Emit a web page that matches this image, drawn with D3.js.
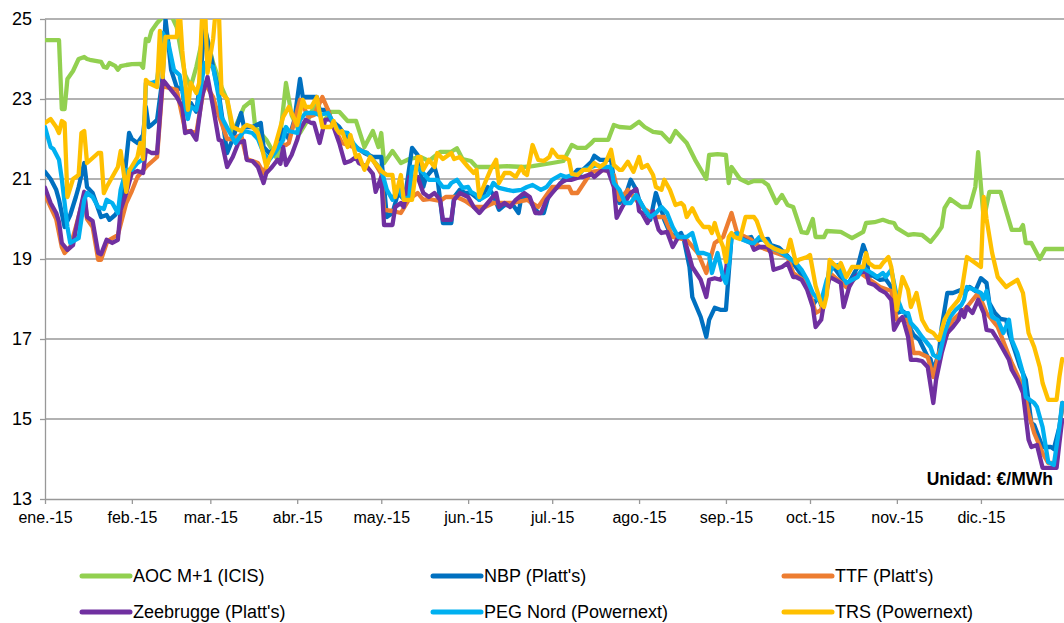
<!DOCTYPE html>
<html><head><meta charset="utf-8">
<script src="https://cdn.jsdelivr.net/npm/d3@7"></script>
<style>body{margin:0;background:#fff} svg{display:block;font-family:Arial,"Liberation Sans",sans-serif}</style>
</head><body><svg id="c" width="1064" height="623"></svg>
<script>
// ---- data (day of year 2015, value €/MWh) ----
const seriesNames = ["AOC M+1 (ICIS)", "NBP (Platt's)", "TTF (Platt's)", "Zeebrugge (Platt's)", "PEG Nord (Powernext)", "TRS (Powernext)"];
const seriesColors = ["#92D050", "#0070C0", "#ED7D31", "#7030A0", "#00B0F0", "#FFC000"];
const monthLabels = ["ene.-15","feb.-15","mar.-15","abr.-15","may.-15","jun.-15","jul.-15","ago.-15","sep.-15","oct.-15","nov.-15","dic.-15"];
const yTicks = [13, 15, 17, 19, 21, 23, 25];
const unitLabel = "Unidad: €/MWh";

const aoc = [[0,24.47],[5,24.47],[6,22.75],[7,22.75],[8,23.5],[10,23.7],[12,24.0],[14,24.05],[15,24.0],[16,23.98],[20,23.93],[21,23.8],[22,23.78],[23,23.9],[25,23.83],[26,23.73],[27,23.82],[29,23.85],[31,23.87],[34,23.88],[35,23.78],[36,24.5],[37,24.45],[38,24.7],[40,24.9],[42,25.05],[45,25.1],[47,24.8],[50,23.6],[52,23.3],[54,23.8],[57,24.75],[60,23.9],[63,23.3],[65,22.97],[67,22.15],[71,22.8],[74,22.97],[75,22.3],[79,21.98],[83,21.48],[86,23.4],[88,22.6],[91,22.15],[94,22.5],[97,22.97],[99,22.4],[102,22.68],[105,22.68],[108,22.45],[111,22.45],[114,21.8],[117,22.2],[119,21.8],[120,22.15],[121,21.4],[124,21.7],[127,21.4],[130,21.5],[134,21.55],[137,21.45],[141,21.68],[145,21.68],[147,21.77],[149,21.5],[152,21.45],[154,21.3],[159,21.3],[165,21.32],[171,21.3],[174,21.32],[181,21.4],[185,21.45],[188,21.85],[190,21.78],[193,21.78],[195,21.9],[196,21.98],[201,21.98],[203,22.35],[205,22.3],[209,22.28],[212,22.43],[214,22.3],[217,22.18],[220,22.15],[223,21.93],[225,22.2],[227,22.05],[229,21.9],[232,21.48],[236,21.0],[237,21.6],[240,21.62],[243,21.6],[244,20.9],[245,21.3],[248,21.0],[251,20.9],[253,20.95],[256,20.95],[258,20.85],[261,20.4],[263,20.6],[265,20.35],[267,20.3],[270,19.67],[272,19.65],[274,20.0],[275,19.55],[278,19.55],[279,19.7],[284,19.68],[286,19.6],[288,19.52],[292,19.68],[293,19.9],[296,19.92],[299,19.98],[301,19.93],[303,19.9],[304,19.77],[308,19.6],[310,19.62],[313,19.6],[316,19.43],[318,19.6],[320,19.8],[321,20.27],[323,20.5],[327,20.3],[330,20.3],[332,20.8],[333,21.67],[335,19.98],[337,20.68],[341,20.68],[343,20.2],[345,19.73],[348,19.73],[349,19.85],[350,19.4],[352,19.4],[355,19.0],[357,19.25],[364,19.25]];

const nbp = [[0,21.18],[2,21.0],[4,20.73],[5,20.48],[7,19.8],[9,20.1],[11,20.55],[12,20.8],[14,21.4],[15,20.8],[17,20.65],[20,20.05],[22,20.1],[23,19.98],[25,20.1],[27,20.3],[28,20.8],[30,22.15],[31,22.0],[33,21.9],[35,22.1],[36,22.8],[37,22.3],[38,22.35],[40,22.48],[42,23.55],[43,25.0],[44,24.4],[45,23.73],[47,23.3],[49,23.23],[50,22.73],[52,22.9],[54,22.68],[55,23.23],[57,24.8],[59,24.15],[60,23.8],[62,23.15],[63,22.65],[65,21.65],[67,22.0],[70,22.65],[71,22.3],[74,22.3],[77,22.4],[78,21.8],[80,21.65],[83,21.8],[85,22.23],[87,22.0],[89,22.48],[91,23.5],[92,23.05],[95,23.05],[97,23.05],[98,22.73],[101,22.73],[102,22.48],[105,22.3],[108,22.0],[111,21.8],[114,21.65],[117,21.55],[120,21.55],[121,20.8],[122,20.05],[124,20.15],[126,20.65],[128,20.5],[129,20.8],[131,21.78],[133,21.6],[135,20.8],[136,21.05],[139,21.3],[140,21.05],[142,19.9],[145,19.9],[146,20.55],[148,20.73],[150,20.65],[152,20.65],[155,20.48],[158,20.8],[160,20.6],[162,20.23],[164,20.35],[167,20.35],[169,20.15],[170,20.55],[172,20.55],[176,20.15],[178,20.15],[180,20.65],[183,20.8],[185,20.98],[187,20.98],[190,21.23],[192,21.23],[195,21.43],[196,21.58],[198,21.48],[200,21.48],[202,21.48],[203,20.98],[205,20.4],[207,20.55],[209,20.98],[211,20.73],[212,20.48],[214,20.23],[216,19.98],[218,20.65],[220,20.23],[221,19.98],[223,19.65],[225,19.55],[227,19.65],[228,19.48],[230,18.8],[231,18.05],[234,17.55],[236,17.05],[237,17.48],[239,17.78],[241,17.73],[243,17.73],[244,18.65],[245,19.55],[247,19.65],[249,19.5],[252,19.55],[253,19.4],[255,19.48],[258,19.5],[259,19.35],[262,19.28],[264,19.15],[266,19.0],[268,18.8],[270,18.6],[272,18.28],[274,17.85],[276,18.05],[277,17.85],[279,18.3],[280,18.8],[282,18.75],[284,18.55],[286,18.3],[288,18.55],[290,18.8],[292,19.35],[293,19.15],[294,18.55],[295,18.6],[298,18.48],[300,18.5],[302,18.3],[304,17.65],[306,17.7],[307,17.65],[309,17.23],[310,17.1],[312,16.98],[315,16.55],[316,16.5],[317,16.2],[319,16.65],[320,17.3],[322,18.15],[324,18.15],[327,18.23],[328,18.15],[330,18.3],[332,18.2],[334,18.52],[336,18.4],[337,17.9],[339,17.65],[341,17.5],[343,17.48],[344,17.15],[346,16.73],[348,16.3],[350,15.98],[352,14.9],[353,14.85],[356,14.3],[359,14.3],[360,14.25],[362,14.8],[363,15.3]];

const ttf = [[0,20.6],[2,20.3],[4,20.0],[6,19.3],[7,19.15],[9,19.3],[11,19.8],[14,20.6],[15,20.0],[17,19.8],[19,18.98],[20,18.98],[22,19.4],[23,19.48],[26,19.6],[29,20.4],[31,20.7],[33,21.05],[36,21.3],[40,21.55],[42,23.4],[43,23.3],[47,23.23],[50,22.23],[54,22.15],[57,23.4],[60,23.05],[61,22.8],[65,22.0],[67,22.0],[70,22.1],[72,21.5],[74,21.45],[76,21.4],[78,21.15],[80,21.5],[83,21.9],[86,21.85],[87,21.9],[91,22.98],[94,22.55],[96,22.6],[99,23.05],[101,22.73],[103,22.3],[106,21.9],[108,21.85],[110,21.8],[115,21.65],[117,21.48],[120,21.13],[121,20.23],[124,20.2],[127,20.15],[130,20.5],[133,20.65],[135,20.48],[137,20.5],[141,20.45],[143,20.55],[147,20.55],[150,20.45],[153,20.3],[157,20.3],[160,20.4],[164,20.4],[167,20.4],[172,20.48],[176,20.3],[181,20.8],[185,20.8],[187,20.8],[188,20.65],[190,20.65],[195,21.18],[200,21.23],[203,21.1],[205,20.48],[208,20.73],[213,20.3],[218,20.05],[221,20.05],[224,19.55],[229,19.48],[233,19.15],[236,18.65],[239,19.4],[242,19.55],[245,20.15],[247,19.65],[252,19.48],[255,19.3],[265,19.05],[267,18.65],[272,18.4],[275,17.65],[277,17.73],[280,18.65],[286,18.3],[291,18.65],[298,18.3],[302,18.2],[304,17.48],[308,17.48],[310,16.65],[312,16.65],[315,16.55],[317,16.05],[319,16.65],[324,17.48],[329,17.8],[333,18.15],[336,17.65],[340,17.3],[345,16.4],[349,15.8],[351,15.15],[353,14.65],[356,14.15],[358,13.9],[361,13.9],[363,15.4]];

const zee = [[0,20.78],[2,20.4],[4,20.15],[5,19.93],[6,19.4],[8,19.23],[10,19.35],[11,19.73],[14,20.68],[15,20.05],[17,19.95],[19,19.15],[20,19.12],[22,19.48],[24,19.4],[26,19.48],[27,20.23],[29,20.65],[31,21.15],[33,21.2],[35,21.15],[36,21.73],[38,21.65],[40,21.65],[42,23.48],[43,23.4],[47,23.05],[49,22.8],[50,22.15],[52,22.2],[54,21.98],[56,23.05],[58,23.55],[60,22.8],[62,21.98],[63,21.95],[65,21.3],[67,21.55],[69,21.9],[71,21.95],[72,21.48],[74,21.45],[76,21.3],[78,20.9],[79,21.15],[81,21.3],[83,21.48],[84,21.38],[85,21.8],[86,21.35],[88,21.6],[90,21.98],[91,22.23],[93,22.48],[95,22.4],[96,22.4],[98,21.9],[100,22.48],[102,22.5],[104,22.1],[105,21.9],[107,21.4],[109,21.45],[111,21.55],[112,21.4],[115,21.3],[117,21.13],[118,20.68],[120,21.05],[121,19.85],[124,19.85],[125,20.3],[127,20.4],[128,20.3],[130,21.05],[133,21.05],[135,20.65],[137,20.55],[139,20.65],[141,20.48],[142,19.98],[145,19.98],[146,20.48],[148,20.65],[151,20.55],[153,20.3],[155,20.15],[158,20.4],[161,20.65],[162,20.3],[164,20.4],[166,20.3],[168,20.48],[171,20.65],[173,20.55],[175,20.15],[177,20.15],[179,20.48],[181,20.65],[184,20.9],[186,20.98],[188,20.98],[191,21.05],[192,21.05],[195,21.13],[196,21.05],[199,21.23],[201,21.2],[203,20.8],[204,20.03],[206,20.3],[209,20.65],[211,20.75],[212,20.2],[213,20.15],[215,19.9],[217,20.2],[219,19.73],[220,19.65],[222,19.68],[224,19.3],[226,19.55],[228,19.55],[229,19.3],[231,18.8],[234,18.48],[236,18.05],[237,18.48],[239,18.52],[241,18.48],[243,18.7],[244,19.3],[245,19.55],[247,19.6],[249,19.5],[252,19.4],[253,19.23],[255,19.3],[258,19.3],[259,19.15],[260,18.73],[263,18.8],[265,18.9],[267,18.55],[268,18.55],[270,18.48],[272,18.23],[274,17.8],[275,17.3],[277,17.48],[278,17.9],[280,18.55],[282,18.48],[284,18.4],[285,17.8],[287,18.3],[289,18.55],[291,18.65],[293,18.73],[294,18.4],[296,18.35],[298,18.23],[300,18.15],[302,17.98],[303,17.23],[305,17.48],[306,17.55],[308,17.05],[309,16.48],[311,16.48],[313,16.45],[315,16.3],[317,15.4],[318,15.98],[320,16.65],[322,17.15],[324,17.3],[326,17.48],[327,17.73],[328,17.55],[329,17.8],[331,17.65],[333,17.98],[335,17.65],[336,17.23],[338,17.2],[340,16.98],[342,16.73],[344,16.48],[345,16.23],[347,15.98],[349,15.65],[351,14.48],[352,14.3],[354,14.35],[356,13.78],[361,13.78],[362,14.4],[363,14.98]];

const peg = [[0,22.3],[2,21.8],[3,21.75],[5,21.48],[6,21.0],[8,19.8],[9,19.4],[12,19.52],[14,20.48],[15,20.65],[17,20.55],[19,20.3],[21,20.25],[22,20.48],[24,20.4],[26,20.15],[27,20.73],[29,21.23],[31,21.23],[33,21.4],[35,21.5],[36,23.4],[38,23.4],[40,23.45],[42,24.65],[44,24.4],[46,23.73],[48,23.6],[49,23.23],[51,22.5],[52,22.8],[54,22.73],[55,23.05],[57,23.9],[60,23.8],[62,23.05],[63,22.55],[66,22.15],[68,21.9],[71,22.2],[74,22.15],[76,22.0],[78,21.65],[80,21.48],[82,21.65],[85,21.98],[86,22.3],[87,22.2],[90,22.15],[91,22.48],[93,22.65],[96,22.65],[98,22.6],[101,22.65],[103,22.4],[105,22.18],[108,22.15],[110,21.9],[112,21.73],[115,21.65],[117,21.48],[120,21.23],[122,20.73],[124,20.48],[126,20.8],[128,20.5],[130,20.55],[131,21.3],[133,21.3],[135,21.15],[137,20.98],[140,20.98],[142,20.8],[144,20.8],[145,20.9],[147,20.98],[149,20.78],[151,20.8],[152,20.68],[154,20.6],[155,20.48],[158,20.6],[160,20.9],[162,20.78],[165,20.73],[167,20.7],[170,20.73],[172,20.8],[174,20.85],[177,20.73],[179,20.8],[181,20.98],[184,21.1],[186,21.05],[188,21.1],[191,21.15],[192,21.23],[195,21.3],[197,21.35],[199,21.3],[202,21.3],[203,20.9],[205,20.73],[207,20.4],[209,20.4],[211,20.6],[212,20.48],[214,20.23],[216,20.05],[218,20.15],[220,20.3],[222,20.15],[224,19.8],[226,19.55],[227,19.55],[229,19.55],[231,19.65],[233,19.15],[235,19.15],[237,19.1],[238,18.65],[240,19.15],[242,18.55],[243,18.4],[244,18.8],[245,19.55],[247,19.65],[249,19.48],[252,19.4],[253,19.4],[255,19.55],[258,19.4],[260,19.25],[262,19.2],[265,19.05],[266,19.0],[268,18.9],[270,18.73],[272,18.48],[274,18.15],[276,17.98],[277,17.95],[279,18.48],[281,18.8],[283,18.85],[284,18.65],[286,18.4],[288,18.48],[290,18.55],[292,18.8],[293,18.73],[295,18.65],[297,18.55],[299,18.65],[300,18.55],[302,18.73],[304,18.05],[306,17.68],[308,17.65],[309,17.4],[311,17.25],[313,17.05],[316,16.8],[317,16.6],[319,16.52],[321,17.15],[323,17.55],[325,17.73],[327,17.85],[328,17.98],[329,18.3],[331,18.25],[334,18.15],[335,18.0],[336,18.2],[338,17.55],[340,17.48],[342,17.15],[344,17.48],[345,16.98],[347,16.65],[349,16.15],[350,15.55],[353,15.4],[354,15.3],[356,14.8],[358,13.93],[360,13.85],[362,14.8],[363,15.4]];

const trs = [[0,22.4],[2,22.5],[4,22.3],[5,22.15],[6,22.45],[7,22.4],[8,20.55],[10,21.0],[12,21.1],[13,22.15],[14,22.2],[15,21.4],[19,21.65],[20,21.65],[21,20.65],[22,20.8],[26,21.3],[27,21.7],[29,20.68],[30,21.2],[33,21.55],[34,21.9],[35,21.5],[36,23.48],[37,23.4],[40,23.3],[41,24.7],[42,23.55],[43,24.55],[47,24.55],[48,25.3],[49,24.2],[51,22.73],[52,23.4],[54,23.15],[55,23.4],[56,25.0],[57,25.5],[58,23.65],[60,24.5],[61,25.3],[62,25.3],[63,23.15],[65,23.0],[67,22.3],[70,22.2],[71,22.3],[72,22.35],[74,22.3],[76,22.15],[77,21.9],[79,21.3],[80,21.5],[82,21.8],[84,22.3],[85,22.55],[87,22.8],[88,22.65],[90,22.35],[92,22.98],[93,22.8],[95,22.8],[97,23.05],[98,22.65],[99,22.3],[102,22.3],[103,22.45],[104,22.25],[105,22.15],[106,22.2],[108,21.8],[109,22.1],[111,21.55],[112,21.6],[114,21.23],[116,21.55],[119,21.3],[120,21.2],[122,21.1],[124,21.1],[125,20.55],[127,21.1],[128,20.48],[131,20.48],[133,21.55],[134,21.55],[135,21.23],[137,21.48],[139,21.3],[140,21.65],[142,21.5],[145,21.65],[146,21.5],[148,21.55],[151,21.3],[153,21.15],[154,21.23],[155,20.55],[157,20.9],[159,21.23],[161,21.48],[162,20.9],[164,21.15],[166,21.15],[168,21.05],[170,21.3],[171,21.15],[172,21.1],[174,21.85],[176,21.48],[178,21.45],[180,21.55],[181,21.73],[183,21.55],[185,21.55],[187,21.48],[188,21.13],[190,21.1],[192,21.23],[194,21.23],[196,21.4],[198,21.3],[200,21.4],[202,21.73],[203,21.35],[205,21.23],[206,21.23],[208,21.43],[210,21.18],[212,21.55],[213,21.28],[215,21.35],[217,21.1],[218,20.8],[220,20.73],[221,20.98],[223,20.73],[225,20.35],[227,20.4],[228,20.33],[229,20.05],[231,20.27],[233,19.98],[235,19.8],[237,19.8],[238,19.65],[239,19.9],[240,19.65],[242,19.3],[243,18.93],[244,19.55],[245,19.65],[246,19.55],[248,19.5],[250,20.05],[253,20.05],[254,19.95],[256,19.55],[258,19.35],[260,19.27],[263,19.18],[265,19.2],[266,19.48],[268,18.9],[269,18.98],[272,19.05],[273,19.1],[275,18.33],[277,17.88],[278,17.8],[279,18.1],[280,18.98],[281,18.9],[283,18.78],[284,18.9],[286,18.55],[288,18.8],[290,18.8],[292,18.8],[293,19.15],[294,18.9],[296,18.8],[298,18.8],[299,18.9],[301,19.05],[302,18.8],[303,18.3],[304,17.73],[306,18.55],[308,18.23],[309,17.8],[311,18.15],[313,17.48],[315,17.23],[317,17.15],[319,16.98],[321,17.48],[323,17.73],[326,17.98],[327,18.15],[329,19.05],[332,18.9],[334,18.8],[335,20.55],[336,20.0],[338,19.15],[340,18.55],[343,18.3],[344,18.35],[347,18.48],[349,18.15],[351,17.15],[353,16.8],[355,16.3],[356,15.9],[358,15.48],[361,15.48],[362,16.05],[363,16.5]];

const seriesData = [aoc, nbp, ttf, zee, peg, trs];

// ---- drawing ----
const svg = d3.select("#c");
const FONT = "Arial, 'Liberation Sans', sans-serif";
const toDate = d => new Date(2015, 0, 1 + d);
const x = d3.scaleTime().domain([new Date(2015,0,1), new Date(2015,11,31)]).range([45, 1065]);
const y = d3.scaleLinear().domain([13, 25]).range([499, 19]);
const monthStarts = d3.range(12).map(m => new Date(2015, m, 1));

// grid
svg.append("g").selectAll("line").data(yTicks.filter(v => v > 13)).join("line")
  .attr("x1", 45).attr("x2", 1064).attr("y1", d => y(d)).attr("y2", d => y(d))
  .attr("stroke", "#989898").attr("stroke-width", 1.3);

// axes
const yAxis = svg.append("g").attr("transform", "translate(45,0)")
  .call(d3.axisLeft(y).tickValues(yTicks).tickSize(5).tickSizeOuter(0).tickPadding(8).tickFormat(d3.format("d")));
yAxis.select(".domain").attr("stroke", "#989898").attr("stroke-width", 1.3);
yAxis.selectAll(".tick line").attr("stroke", "#989898").attr("stroke-width", 1.3);
yAxis.selectAll("text").attr("font-size", 18).attr("fill", "#000").attr("font-family", FONT);

const xAxis = svg.append("g").attr("transform", "translate(0,499)")
  .call(d3.axisBottom(x).tickValues(monthStarts).tickSize(5).tickSizeOuter(0).tickPadding(8).tickFormat((d, i) => monthLabels[i]));
xAxis.select(".domain").attr("stroke", "#989898").attr("stroke-width", 1.3);
xAxis.selectAll(".tick line").attr("stroke", "#989898").attr("stroke-width", 1.3);
xAxis.selectAll("text").attr("font-size", 16).attr("fill", "#000").attr("font-family", FONT);

// clip
svg.append("defs").append("clipPath").attr("id", "plot")
  .append("rect").attr("x", 45).attr("y", 19).attr("width", 1019).attr("height", 480);

const line = d3.line().x(d => x(toDate(d[0]))).y(d => y(d[1]));
svg.append("g").attr("clip-path", "url(#plot)").selectAll("path").data(seriesData).join("path")
  .attr("d", line).attr("fill", "none")
  .attr("stroke", (d, i) => seriesColors[i]).attr("stroke-width", 4.3)
  .attr("stroke-linejoin", "round").attr("stroke-linecap", "round");

// unit label
svg.append("text").attr("x", 1053).attr("y", 485).attr("text-anchor", "end")
  .attr("font-size", 17.5).attr("font-weight", "bold").attr("font-family", FONT).text(unitLabel);

// legend
const legX = [82, 433, 784], legY = [576, 612];
const leg = svg.append("g").selectAll("g").data(seriesNames).join("g")
  .attr("transform", (d, i) => `translate(${legX[i % 3]},${legY[Math.floor(i / 3)]})`);
leg.append("line").attr("x1", 0).attr("x2", 48).attr("y1", 0).attr("y2", 0)
  .attr("stroke", (d, i) => seriesColors[i]).attr("stroke-width", 5).attr("stroke-linecap", "round");
leg.append("text").attr("x", 51).attr("y", 0).attr("dy", "0.35em")
  .attr("font-size", 18).attr("fill", "#000").attr("font-family", FONT).text(d => d);
</script></body></html>
